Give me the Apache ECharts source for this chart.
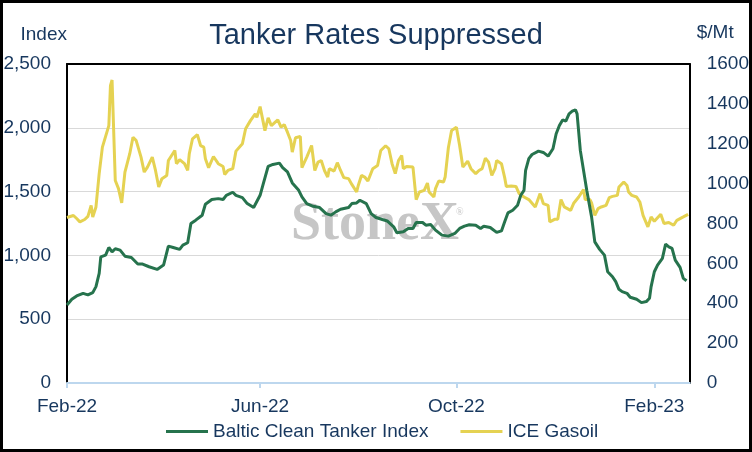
<!DOCTYPE html>
<html>
<head>
<meta charset="utf-8">
<script src="https://cdn.jsdelivr.net/npm/echarts@6/dist/echarts.min.js"></script>
<style>
  html, body { margin: 0; padding: 0; background: #fff; overflow: hidden; }
  #wrap { position: relative; width: 752px; height: 452px; }
  #chart { width: 752px; height: 452px; }
  #frame { position: absolute; left: 0; top: 0; width: 752px; height: 452px;
           box-sizing: border-box; border: 3px solid #000; pointer-events: none; }
</style>
</head>
<body>
<div id="wrap">
  <div id="chart"></div>
  <div id="frame"></div>
</div>
<script>
// Baltic Clean Tanker Index (left axis, index points)
var bctiDates = [
  '2022-02-01','2022-02-04','2022-02-07','2022-02-11','2022-02-14','2022-02-17','2022-02-19','2022-02-21','2022-02-22','2022-02-25',
  '2022-02-27','2022-03-01','2022-03-03','2022-03-06','2022-03-09','2022-03-13','2022-03-17','2022-03-20','2022-03-24','2022-03-29',
  '2022-04-02','2022-04-05','2022-04-08','2022-04-12','2022-04-14','2022-04-17','2022-04-19','2022-04-22','2022-04-26','2022-04-28',
  '2022-05-02','2022-05-06','2022-05-09','2022-05-11','2022-05-15','2022-05-17','2022-05-21','2022-05-24','2022-05-28','2022-06-01',
  '2022-06-03','2022-06-06','2022-06-09','2022-06-13','2022-06-15','2022-06-18','2022-06-21','2022-06-25','2022-06-27','2022-06-30',
  '2022-07-04','2022-07-08','2022-07-12','2022-07-15','2022-07-18','2022-07-21','2022-07-26','2022-07-28','2022-07-31','2022-08-02',
  '2022-08-06','2022-08-09','2022-08-12','2022-08-16','2022-08-19','2022-08-23','2022-08-25','2022-08-29','2022-09-01','2022-09-04',
  '2022-09-06','2022-09-10','2022-09-12','2022-09-15','2022-09-18','2022-09-22','2022-09-26','2022-09-30','2022-10-03','2022-10-06',
  '2022-10-09','2022-10-13','2022-10-16','2022-10-18','2022-10-22','2022-10-26','2022-10-29','2022-10-31','2022-11-02','2022-11-05',
  '2022-11-08','2022-11-10','2022-11-12','2022-11-13','2022-11-15','2022-11-17','2022-11-21','2022-11-24','2022-11-27','2022-11-30',
  '2022-12-02','2022-12-04','2022-12-06','2022-12-08','2022-12-10','2022-12-12','2022-12-14','2022-12-15','2022-12-17','2022-12-21',
  '2022-12-24','2022-12-26','2022-12-29','2023-01-01','2023-01-03','2023-01-06','2023-01-08','2023-01-10','2023-01-12','2023-01-15',
  '2023-01-17','2023-01-21','2023-01-24','2023-01-27','2023-01-29','2023-01-30','2023-02-01','2023-02-03','2023-02-06','2023-02-08',
  '2023-02-10','2023-02-12','2023-02-14','2023-02-17','2023-02-19','2023-02-21'
];
var bctiValues = [
  612, 656, 682, 703, 690, 708, 755, 859, 989, 1002,
  1062, 1028, 1052, 1041, 994, 984, 932, 932, 911, 890,
  924, 1073, 1062, 1047, 1080, 1099, 1250, 1276, 1315, 1401,
  1438, 1445, 1438, 1471, 1495, 1471, 1453, 1406, 1375, 1471,
  1562, 1698, 1713, 1723, 1688, 1654, 1568, 1510, 1458, 1406,
  1385, 1375, 1328, 1315, 1341, 1362, 1375, 1406, 1411, 1432,
  1406, 1328, 1297, 1281, 1270, 1224, 1177, 1185, 1211, 1211,
  1258, 1258, 1237, 1242, 1198, 1159, 1151, 1172, 1211, 1229,
  1240, 1237, 1211, 1229, 1219, 1180, 1192, 1263, 1333, 1354,
  1393, 1471, 1510, 1666, 1758, 1791, 1817, 1807, 1778, 1836,
  1953, 2018, 2062, 2052, 2109, 2130, 2141, 2109, 1823, 1510,
  1302, 1106, 1047, 1002, 872, 833, 794, 734, 716, 703,
  672, 656, 630, 638, 664, 755, 872, 924, 977, 1088,
  1067, 1055, 963, 906, 820, 802
];

// ICE Gasoil (right axis, $/Mt)
var gasoilDates = [
  '2022-02-01','2022-02-05','2022-02-07','2022-02-09','2022-02-12','2022-02-14','2022-02-16','2022-02-17','2022-02-19','2022-02-21',
  '2022-02-23','2022-02-27','2022-02-28','2022-03-01','2022-03-02','2022-03-03','2022-03-05','2022-03-07','2022-03-09','2022-03-12',
  '2022-03-14','2022-03-16','2022-03-19','2022-03-21','2022-03-23','2022-03-26','2022-03-28','2022-03-30','2022-04-01','2022-04-04',
  '2022-04-05','2022-04-09','2022-04-10','2022-04-12','2022-04-15','2022-04-17','2022-04-18','2022-04-20','2022-04-23','2022-04-25',
  '2022-04-27','2022-04-28','2022-04-30','2022-05-03','2022-05-06','2022-05-09','2022-05-10','2022-05-12','2022-05-15','2022-05-17',
  '2022-05-21','2022-05-23','2022-05-26','2022-05-29','2022-05-30','2022-06-01','2022-06-04','2022-06-06','2022-06-08','2022-06-12',
  '2022-06-14','2022-06-16','2022-06-18','2022-06-20','2022-06-21','2022-06-23','2022-06-26','2022-06-27','2022-06-30','2022-07-03',
  '2022-07-05','2022-07-07','2022-07-09','2022-07-11','2022-07-13','2022-07-14','2022-07-17','2022-07-19','2022-07-21','2022-07-23',
  '2022-07-26','2022-07-28','2022-07-31','2022-08-01','2022-08-03','2022-08-05','2022-08-07','2022-08-10','2022-08-13','2022-08-15',
  '2022-08-18','2022-08-20','2022-08-22','2022-08-24','2022-08-26','2022-08-28','2022-08-29','2022-08-31','2022-09-04','2022-09-06',
  '2022-09-08','2022-09-11','2022-09-13','2022-09-14','2022-09-17','2022-09-18','2022-09-20','2022-09-23','2022-09-24','2022-09-26',
  '2022-09-28','2022-10-01','2022-10-03','2022-10-05','2022-10-08','2022-10-10','2022-10-13','2022-10-15','2022-10-17','2022-10-19',
  '2022-10-21','2022-10-23','2022-10-25','2022-10-26','2022-10-29','2022-10-31','2022-11-01','2022-11-04','2022-11-07','2022-11-09',
  '2022-11-12','2022-11-15','2022-11-19','2022-11-22','2022-11-24','2022-11-27','2022-11-28','2022-12-01','2022-12-03','2022-12-05',
  '2022-12-07','2022-12-11','2022-12-13','2022-12-16','2022-12-19','2022-12-20','2022-12-23','2022-12-24','2022-12-26','2022-12-28',
  '2022-12-30','2023-01-02','2023-01-04','2023-01-06','2023-01-09','2023-01-10','2023-01-13','2023-01-15','2023-01-16','2023-01-18',
  '2023-01-21','2023-01-23','2023-01-25','2023-01-28','2023-01-30','2023-02-01','2023-02-05','2023-02-07','2023-02-10','2023-02-13',
  '2023-02-15','2023-02-19','2023-02-22'
];
var gasoilValues = [
  830, 840, 825, 808, 820, 836, 891, 833, 883, 1050,
  1183, 1291, 1491, 1520, 1520, 1016, 975, 903, 1058, 1150,
  1233, 1216, 1133, 1058, 1083, 1133, 1066, 983, 1025, 1041,
  1116, 1166, 1100, 1120, 1100, 1066, 1150, 1225, 1246, 1191,
  1183, 1125, 1080, 1136, 1100, 1086, 1046, 1066, 1075, 1163,
  1200, 1275, 1316, 1350, 1333, 1386, 1266, 1330, 1291, 1320,
  1283, 1296, 1258, 1216, 1158, 1230, 1236, 1080, 1133, 1191,
  1066, 1108, 1116, 1066, 1033, 1075, 1063, 1105, 1066, 1030,
  1025, 996, 958, 991, 1041, 1033, 1013, 1075, 1091, 1166,
  1190, 1175, 1100, 1050, 1116, 1141, 1075, 1086, 1083, 920,
  958, 966, 1003, 958, 933, 975, 1013, 1008, 1033, 1180,
  1266, 1283, 1191, 1083, 1113, 1075, 1050, 1066, 1075, 1128,
  1108, 1041, 1075, 1116, 1100, 1030, 986, 988, 986, 950,
  933, 920, 883, 950, 900, 891, 808, 821, 821, 920,
  883, 866, 903, 933, 970, 920, 920, 903, 841, 875,
  883, 891, 930, 936, 941, 983, 1008, 991, 958, 941,
  933, 908, 841, 783, 833, 811, 846, 800, 805, 791,
  816, 833, 846
];

var xTickDates = ['2022-02-01', '2022-06-01', '2022-10-01', '2023-02-01'];
var xTickLabels = ['Feb-22', 'Jun-22', 'Oct-22', 'Feb-23'];

var navy = '#17375E';
var font = 'Liberation Sans';

function toTime(s) { return echarts.time.parse(s).getTime(); }
function pairs(dates, vals) {
  return dates.map(function (d, i) { return [toTime(d), vals[i]]; });
}
var tickTimes = xTickDates.map(toTime);

var chart = echarts.init(document.getElementById('chart'), null, { renderer: 'canvas' });

var option = {
  backgroundColor: '#fff',
  animation: false,
  textStyle: { fontFamily: font },
  title: {
    text: 'Tanker Rates Suppressed',
    left: 'center',
    top: 16,
    textStyle: { color: navy, fontSize: 29, fontWeight: 'normal', fontFamily: font }
  },
  grid: { left: 67, right: 62, top: 64, bottom: 69 },
  legend: {
    bottom: 6,
    left: 161,
    itemWidth: 42,
    itemHeight: 3,
    itemGap: 32,
    icon: 'rect',
    data: ['Baltic Clean Tanker Index', 'ICE Gasoil'],
    textStyle: { color: navy, fontSize: 19, fontFamily: font }
  },
  graphic: [
    {
      type: 'text', left: 291, top: 198, z: 0, silent: true,
      style: { text: 'StoneX', fill: '#C6C6C6', font: 'bold 54px "Liberation Serif"' }
    },
    {
      type: 'text', left: 456, top: 207, z: 0, silent: true,
      style: { text: '\u00AE', fill: '#C6C6C6', font: '10px "Liberation Serif"' }
    }
  ],
  xAxis: [
    {
      type: 'value',
      min: toTime('2022-02-01'),
      max: toTime('2023-02-23'),
      axisLine: { show: true, onZero: false, lineStyle: { color: '#BDD7EE', width: 2 } },
      axisTick: { show: true, length: 5, customValues: tickTimes, lineStyle: { color: '#BDD7EE', width: 2 } },
      axisLabel: {
        customValues: tickTimes,
        color: navy, fontSize: 19, margin: 14,
        formatter: function (v) {
          var i = tickTimes.indexOf(v);
          return i >= 0 ? xTickLabels[i] : '';
        }
      },
      splitLine: { show: false }
    },
    {
      type: 'value', position: 'top', min: 0, max: 1,
      axisLine: { show: true, onZero: false, lineStyle: { color: '#000', width: 2 } },
      axisTick: { show: false }, axisLabel: { show: false }, splitLine: { show: false }
    }
  ],
  yAxis: [
    {
      type: 'value', min: 0, max: 2500, interval: 500,
      name: 'Index', nameGap: 20,
      nameTextStyle: { color: navy, fontSize: 19, align: 'right', padding: [0, 0, 0, 0] },
      axisLine: { show: true, lineStyle: { color: '#000', width: 2 } },
      axisTick: { show: false },
      axisLabel: {
        color: navy, fontSize: 19, margin: 16,
        formatter: function (v) { return v.toLocaleString('en-US'); }
      },
      splitLine: { show: true, lineStyle: { color: '#D9D9D9', width: 1 } }
    },
    {
      type: 'value', min: 0, max: 1600, interval: 200,
      name: '$/Mt', nameGap: 22,
      nameTextStyle: { color: navy, fontSize: 19, align: 'left', padding: [0, 0, 0, 7] },
      axisLine: { show: true, lineStyle: { color: '#000', width: 2 } },
      axisTick: { show: false },
      axisLabel: {
        color: navy, fontSize: 19, margin: 17,
        formatter: function (v) { return String(v); }
      },
      splitLine: { show: false }
    }
  ],
  series: [
    {
      name: 'ICE Gasoil', type: 'line', yAxisIndex: 1,
      data: pairs(gasoilDates, gasoilValues),
      showSymbol: false, symbol: 'none',
      itemStyle: { color: '#E5D252' },
      lineStyle: { color: '#E5D252', width: 3 },
      z: 3
    },
    {
      name: 'Baltic Clean Tanker Index', type: 'line', yAxisIndex: 0,
      data: pairs(bctiDates, bctiValues),
      showSymbol: false, symbol: 'none',
      itemStyle: { color: '#26734D' },
      lineStyle: { color: '#26734D', width: 3 },
      z: 4
    }
  ]
};

chart.setOption(option);
</script>
</body>
</html>
